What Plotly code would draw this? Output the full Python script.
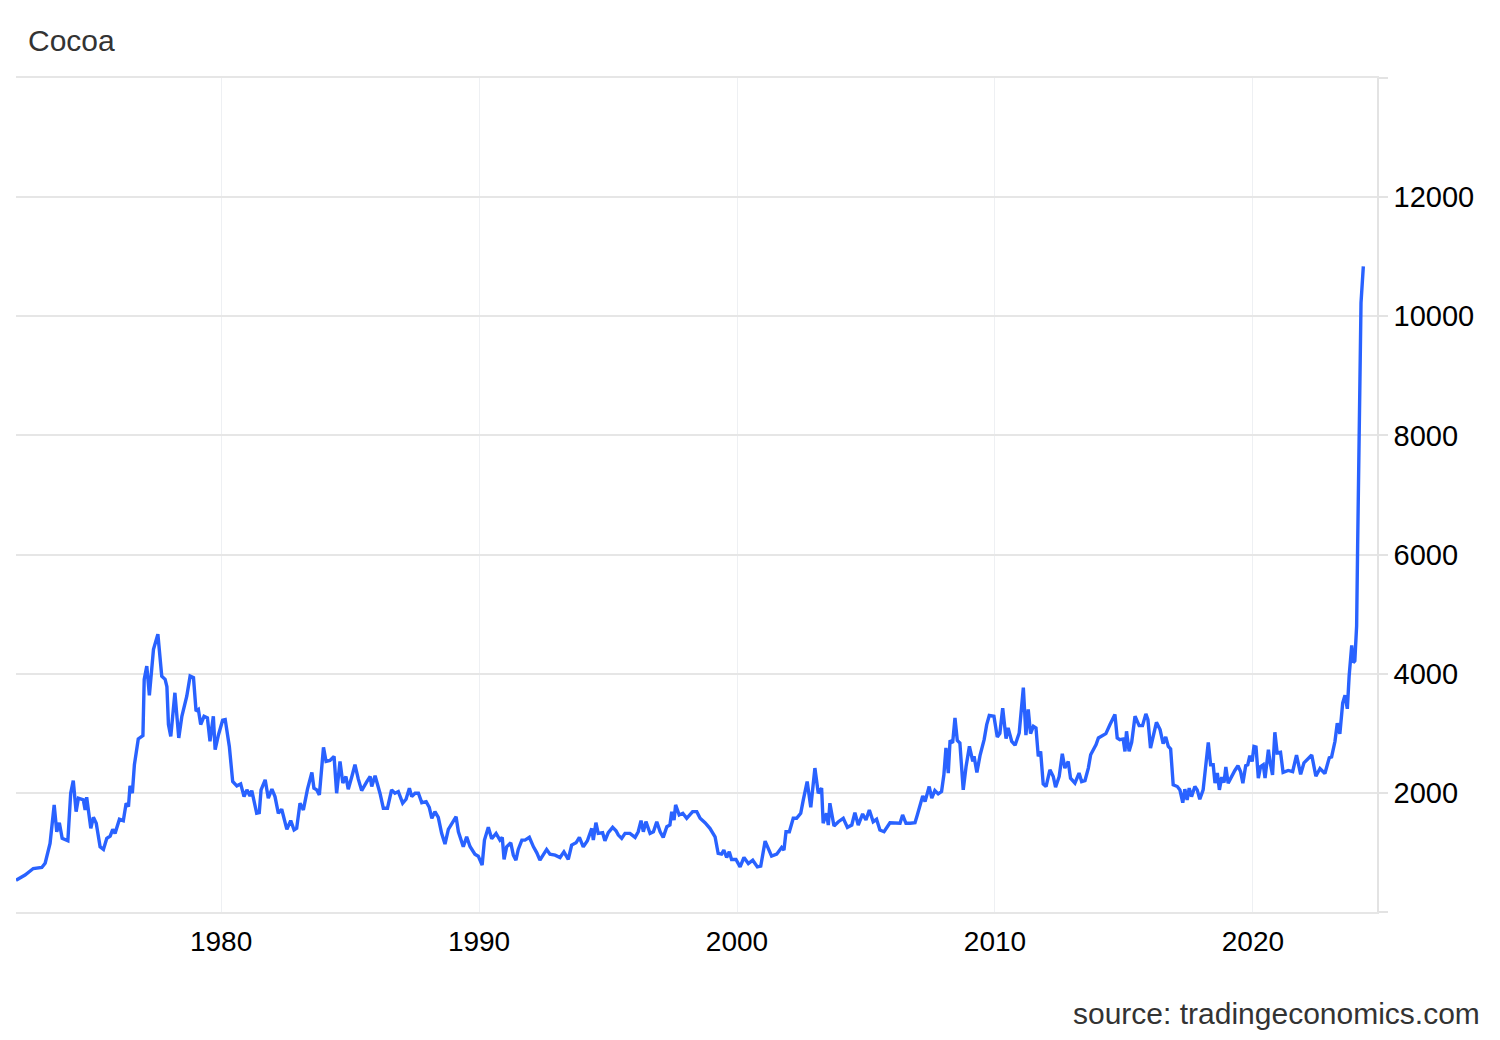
import plotly.graph_objects as go

years = [
    1972.05, 1972.40, 1972.72, 1973.05, 1973.18, 1973.37, 1973.53, 1973.63, 1973.73, 1973.84,
    1974.06, 1974.17, 1974.27, 1974.38, 1974.47, 1974.66, 1974.73, 1974.79, 1974.95, 1975.05,
    1975.16, 1975.31, 1975.44, 1975.57, 1975.70, 1975.80, 1975.89, 1976.06, 1976.21, 1976.32,
    1976.41, 1976.47, 1976.56, 1976.64, 1976.79, 1976.97, 1977.02, 1977.12, 1977.22, 1977.38,
    1977.55, 1977.70, 1977.83, 1977.90, 1977.96, 1978.05, 1978.21, 1978.36, 1978.48, 1978.67,
    1978.80, 1978.93, 1979.03, 1979.12, 1979.21, 1979.34, 1979.47, 1979.57, 1979.70, 1979.77,
    1979.90, 1980.06, 1980.16, 1980.32, 1980.45, 1980.61, 1980.76, 1980.89, 1981.00, 1981.12,
    1981.19, 1981.38, 1981.48, 1981.55, 1981.71, 1981.83, 1981.97, 1982.09, 1982.22, 1982.35,
    1982.55, 1982.70, 1982.83, 1982.93, 1983.06, 1983.19, 1983.35, 1983.52, 1983.60, 1983.71,
    1983.81, 1983.97, 1984.07, 1984.22, 1984.38, 1984.48, 1984.61, 1984.72, 1984.84, 1984.93,
    1985.07, 1985.19, 1985.32, 1985.45, 1985.65, 1985.78, 1985.84, 1985.97, 1986.16, 1986.29,
    1986.45, 1986.61, 1986.74, 1986.87, 1987.04, 1987.17, 1987.30, 1987.39, 1987.52, 1987.65,
    1987.78, 1987.95, 1988.07, 1988.17, 1988.29, 1988.42, 1988.55, 1988.68, 1988.81, 1988.98,
    1989.11, 1989.20, 1989.39, 1989.52, 1989.65, 1989.84, 1989.97, 1990.12, 1990.21, 1990.36,
    1990.49, 1990.66, 1990.81, 1990.90, 1990.97, 1991.07, 1991.23, 1991.33, 1991.43, 1991.52,
    1991.66, 1991.78, 1991.95, 1992.11, 1992.24, 1992.36, 1992.49, 1992.62, 1992.75, 1992.95,
    1993.14, 1993.29, 1993.46, 1993.59, 1993.76, 1993.89, 1994.04, 1994.20, 1994.37, 1994.43,
    1994.53, 1994.62, 1994.79, 1994.88, 1995.01, 1995.18, 1995.31, 1995.40, 1995.53, 1995.66,
    1995.85, 1996.05, 1996.17, 1996.28, 1996.37, 1996.47, 1996.63, 1996.76, 1996.89, 1997.02,
    1997.14, 1997.28, 1997.40, 1997.47, 1997.56, 1997.62, 1997.76, 1997.90, 1998.05, 1998.28,
    1998.44, 1998.57, 1998.76, 1998.95, 1999.15, 1999.27, 1999.40, 1999.49, 1999.60, 1999.70,
    1999.79, 1999.96, 2000.12, 2000.27, 2000.44, 2000.61, 2000.79, 2000.92, 2001.09, 2001.34,
    2001.54, 2001.73, 2001.82, 2001.90, 2002.03, 2002.18, 2002.31, 2002.47, 2002.57, 2002.72,
    2002.86, 2003.02, 2003.15, 2003.28, 2003.34, 2003.47, 2003.54, 2003.60, 2003.76, 2003.93,
    2004.12, 2004.28, 2004.45, 2004.57, 2004.70, 2004.87, 2005.00, 2005.13, 2005.28, 2005.41,
    2005.54, 2005.70, 2005.93, 2006.12, 2006.32, 2006.42, 2006.55, 2006.71, 2006.90, 2006.99,
    2007.09, 2007.20, 2007.29, 2007.45, 2007.55, 2007.67, 2007.80, 2007.93, 2008.02, 2008.10,
    2008.19, 2008.26, 2008.36, 2008.45, 2008.54, 2008.64, 2008.77, 2008.88, 2009.01, 2009.14,
    2009.19, 2009.30, 2009.42, 2009.49, 2009.58, 2009.68, 2009.78, 2009.96, 2010.09, 2010.19,
    2010.30, 2010.43, 2010.51, 2010.65, 2010.78, 2010.94, 2011.10, 2011.20, 2011.29, 2011.38,
    2011.49, 2011.59, 2011.68, 2011.77, 2011.87, 2011.98, 2012.13, 2012.26, 2012.35, 2012.49,
    2012.61, 2012.71, 2012.84, 2012.93, 2013.10, 2013.26, 2013.36, 2013.49, 2013.62, 2013.71,
    2013.84, 2013.92, 2014.01, 2014.20, 2014.30, 2014.46, 2014.65, 2014.74, 2014.84, 2014.97,
    2015.04, 2015.10, 2015.20, 2015.30, 2015.43, 2015.59, 2015.72, 2015.85, 2015.93, 2016.03,
    2016.13, 2016.26, 2016.40, 2016.52, 2016.62, 2016.72, 2016.81, 2016.91, 2017.07, 2017.17,
    2017.28, 2017.36, 2017.45, 2017.53, 2017.62, 2017.75, 2017.84, 2017.94, 2018.07, 2018.18,
    2018.27, 2018.36, 2018.46, 2018.53, 2018.62, 2018.70, 2018.79, 2018.88, 2018.95, 2019.04,
    2019.17, 2019.30, 2019.42, 2019.52, 2019.61, 2019.72, 2019.80, 2019.88, 2019.97, 2020.04,
    2020.12, 2020.21, 2020.30, 2020.40, 2020.47, 2020.60, 2020.66, 2020.76, 2020.85, 2020.94,
    2021.07, 2021.17, 2021.37, 2021.54, 2021.69, 2021.85, 2021.98, 2022.14, 2022.28, 2022.44,
    2022.60, 2022.79, 2022.96, 2023.05, 2023.18, 2023.27, 2023.37, 2023.48, 2023.57, 2023.66,
    2023.73, 2023.83, 2023.89, 2023.95, 2024.02, 2024.06, 2024.11, 2024.15, 2024.19, 2024.28,
]

# Cocoa price (USD/T) at each position
prices = [
    533, 620, 730, 747, 819, 1151, 1797, 1347, 1499, 1236,
    1195, 1994, 2207, 1685, 1910, 1882, 1713, 1927, 1404, 1590,
    1489, 1094, 1050, 1236, 1275, 1388, 1320, 1556, 1533, 1826,
    1769, 2118, 1994, 2472, 2905, 2960, 3905, 4129, 3635, 4411,
    4663, 3960, 3905, 3782, 3146, 2949, 3680, 2922, 3286, 3623,
    3960, 3933, 3370, 3399, 3146, 3286, 3259, 2865, 3286, 2725,
    2977, 3219, 3230, 2780, 2190, 2118, 2151, 1937, 2050, 1949,
    2039, 1657, 1668, 2050, 2219, 1910, 2062, 1937, 1657, 1725,
    1388, 1533, 1376, 1404, 1826, 1713, 2062, 2342, 2079, 2050,
    1966, 2763, 2527, 2544, 2612, 1994, 2527, 2163, 2275, 2062,
    2275, 2472, 2230, 2039, 2190, 2275, 2106, 2286, 1994, 1742,
    1742, 2050, 1994, 2022, 1826, 1893, 2079, 1937, 1994, 1994,
    1836, 1853, 1758, 1573, 1685, 1590, 1320, 1140, 1388, 1499,
    1600, 1347, 1094, 1263, 1100, 971, 937, 786, 1207, 1421,
    1230, 1320, 1207, 1253, 882, 1094, 1162, 954, 870, 1050,
    1207, 1207, 1253, 1094, 993, 870, 971, 1050, 971, 954,
    915, 1010, 882, 1123, 1162, 1253, 1094, 1196, 1404, 1207,
    1499, 1320, 1331, 1196, 1331, 1421, 1364, 1291, 1236, 1320,
    1320, 1253, 1347, 1533, 1347, 1516, 1320, 1347, 1516, 1347,
    1253, 1432, 1460, 1685, 1544, 1797, 1629, 1657, 1573, 1685,
    1685, 1573, 1499, 1404, 1263, 983, 971, 1039, 915, 1010,
    882, 882, 757, 915, 814, 870, 757, 769, 1190, 937,
    971, 1084, 1039, 1347, 1347, 1573, 1573, 1657, 1882, 2190,
    1758, 2416, 1994, 2079, 1489, 1657, 1460, 1826, 1443, 1516,
    1573, 1421, 1460, 1668, 1460, 1646, 1544, 1713, 1516, 1556,
    1376, 1347, 1499, 1489, 1489, 1629, 1489, 1489, 1499, 1629,
    1769, 1949, 1853, 2106, 1910, 2039, 1983, 2022, 2303, 2753,
    2332, 2881, 2838, 3259, 2881, 2838, 2050, 2443, 2780, 2527,
    2612, 2342, 2624, 2753, 2893, 3146, 3298, 3286, 2938, 3000,
    3420, 2910, 3090, 2865, 2800, 3006, 3765, 2970, 3399, 2994,
    3118, 3090, 2612, 2696, 2151, 2106, 2387, 2275, 2096, 2275,
    2657, 2416, 2527, 2247, 2163, 2332, 2190, 2207, 2416, 2640,
    2753, 2809, 2921, 2960, 2994, 3146, 3315, 2921, 2893, 2905,
    2696, 3033, 2696, 2848, 3286, 3129, 3129, 3326, 3230, 2753,
    2921, 3185, 3062, 2826, 2938, 2781, 2736, 2134, 2106, 2050,
    1836, 2062, 1882, 2079, 1937, 2106, 2050, 1893, 2050, 2500,
    2848, 2472, 2472, 2163, 2332, 2050, 2264, 2174, 2433, 2163,
    2275, 2376, 2455, 2359, 2163, 2455, 2472, 2624, 2527, 2780,
    2770, 2247, 2443, 2472, 2247, 2725, 2527, 2303, 3017, 2669,
    2681, 2344, 2376, 2357, 2635, 2311, 2505, 2570, 2635, 2279,
    2409, 2325, 2590, 2603, 2861, 3171, 2989, 3507, 3637, 3411,
    3959, 4476, 4185, 4217, 4798, 6155, 8093, 9707, 10225, 10839,
]

x_tick_years = [1980, 1990, 2000, 2010, 2020]
x_tick_labels = ["1980", "1990", "2000", "2010", "2020"]
y_tick_values = [0, 2000, 4000, 6000, 8000, 10000, 12000, 14000]
y_tick_labels = ["", "2000", "4000", "6000", "8000", "10000", "12000", ""]

title_text = "Cocoa"
source_text = "source: tradingeconomics.com"

FONT = "Liberation Sans, Arial, sans-serif"
LINE_COLOR = "#2962ff"

fig = go.Figure()
fig.add_trace(go.Scatter(
    x=years, y=prices, mode="lines",
    line=dict(color=LINE_COLOR, width=3.4),
    hoverinfo="x+y", showlegend=False,
))

# page body has an 8px margin, so margins are reduced accordingly
fig.update_layout(
    width=1500, height=1040,
    margin=dict(l=8, r=131, t=70, b=136),
    paper_bgcolor="white", plot_bgcolor="white",
    font=dict(family=FONT, size=28, color="#000000"),
    showlegend=False,
    annotations=[
        dict(text=title_text, xref="paper", yref="paper",
             x=(26 - 16) / 1361, y=(912 - 40) / 834,
             xanchor="left", yanchor="middle", showarrow=False,
             font=dict(family=FONT, size=30, color="#333333")),
        dict(text=source_text, xref="paper", yref="paper",
             x=(1482 - 16) / 1361, y=(912 - 1014) / 834,
             xanchor="right", yanchor="middle", showarrow=False,
             font=dict(family=FONT, size=30, color="#333333")),
    ],
)

fig.update_xaxes(
    range=[1972.05, 2024.81],
    tickmode="array", tickvals=x_tick_years, ticktext=x_tick_labels,
    showgrid=True, gridcolor="#eef0f3", gridwidth=1.2,
    showline=True, linecolor="#e6e6e6", linewidth=1.5, mirror=True,
    ticks="outside", ticklen=4, tickcolor="rgba(0,0,0,0)",
    zeroline=False,
    tickfont=dict(family=FONT, size=28, color="#000000"),
)

fig.update_yaxes(
    range=[0, 14000], side="right",
    tickmode="array", tickvals=y_tick_values, ticktext=y_tick_labels,
    showgrid=True, gridcolor="#e6e6e6", gridwidth=1.5,
    showline=True, linecolor="#e3e3e3", linewidth=1.5,
    ticks="outside", ticklen=9, tickcolor="#e3e3e3", tickwidth=1.5,
    zeroline=False,
    tickfont=dict(family=FONT, size=29, color="#000000"),
)

fig.write_html("out.html")
